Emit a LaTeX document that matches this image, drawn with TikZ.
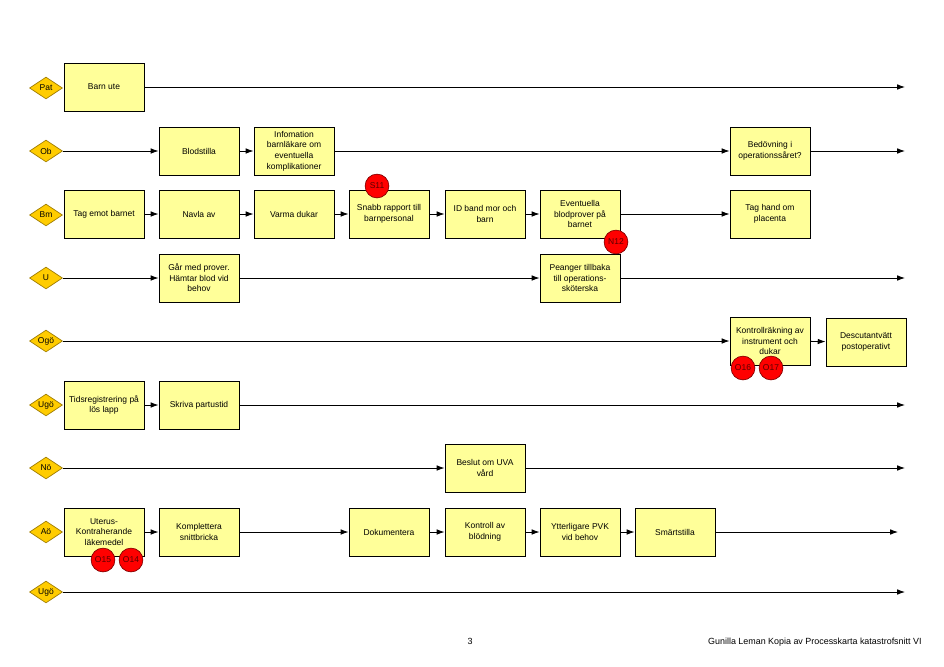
\documentclass[tikz,border=0pt]{standalone}
\usepackage{fontspec}
\setmainfont{Liberation Sans}
\usetikzlibrary{shapes.geometric,arrows.meta}

\definecolor{boxfill}{HTML}{FFFF99}
\definecolor{lanefill}{HTML}{FFCC00}
\definecolor{laneline}{HTML}{9C7A00}
\definecolor{markfill}{HTML}{FF0000}
\definecolor{markline}{HTML}{800000}
\definecolor{marktext}{HTML}{5A0000}

\begin{document}
\begin{tikzpicture}[x=0.0315cm,y=-0.0315cm,
    font=\fontsize{7.6}{9.5}\selectfont,
    >={Latex[length=7pt,width=5pt]},
    line width=0.8pt,
    lane/.style={diamond,draw=laneline,fill=lanefill,line width=0.6pt,aspect=1.5,
      inner sep=0pt,minimum width=1.04cm,minimum height=0.69cm},
    task/.style={draw,fill=boxfill,line width=0.8pt,align=center,inner sep=1pt,
      minimum width=2.52cm,minimum height=1.51cm},
    riskmark/.style={circle,draw=markline,fill=markfill,text=marktext,line width=0.6pt,
      inner sep=0pt,minimum size=0.75cm,font=\fontsize{7.6}{8}\selectfont}]
    \useasboundingbox (0,0) rectangle (944,667);

    \node[lane] (pat) at (46,88) {Pat};
    \node[lane] (ob) at (46,151) {Ob};
    \node[lane] (bm) at (46,215) {Bm};
    \node[lane] (u) at (46,278) {U};
    \node[lane] (ogo) at (46,341) {Ogö};
    \node[lane] (ugo) at (46,405) {Ugö};
    \node[lane] (no) at (46,468) {Nö};
    \node[lane] (ao) at (46,532) {Aö};
    \node[lane] (ugob) at (46,592) {Ugö};

    \coordinate (patend) at (905,87);
    \coordinate (obend) at (905,151);
    \coordinate (uend) at (905,278);
    \coordinate (ugoend) at (905,405);
    \coordinate (noend) at (905,468);
    \coordinate (aoend) at (898,532);
    \coordinate (ugobend) at (905,592);

    \node[task] (barnute) at (104,87) {Barn ute};

    \node[task] (blodstilla) at (199,151) {Blodstilla};
    \node[task] (infomation) at (294,151) {Infomation\\barnläkare om\\eventuella\\komplikationer};
    \node[task] (bedovning) at (770,151) {Bedövning i\\operationssåret?};

    \node[task] (tagemot) at (104,214) {Tag emot barnet};
    \node[task] (navla) at (199,214) {Navla av};
    \node[task] (varma) at (294,214) {Varma dukar};
    \node[task] (snabb) at (389,214) {Snabb rapport till\\barnpersonal};
    \node[task] (idband) at (485,214) {ID band mor och\\barn};
    \node[task] (blodprov) at (580,214) {Eventuella\\blodprover på\\barnet};
    \node[task] (placenta) at (770,214) {Tag hand om\\placenta};

    \node[task] (garmed) at (199,278) {Går med prover.\\Hämtar blod vid\\behov};
    \node[task] (peanger) at (580,278) {Peanger tillbaka\\till operations-\\sköterska};

    \node[task] (kontrollr) at (770,341) {Kontrollräkning av\\instrument och\\dukar};
    \node[task] (descutan) at (866,342) {Descutantvätt\\postoperativt};

    \node[task] (tidsreg) at (104,405) {Tidsregistrering på\\lös lapp};
    \node[task] (skriva) at (199,405) {Skriva partustid};

    \node[task] (beslut) at (485,468) {Beslut om UVA\\vård};

    \node[task] (uterus) at (104,532) {Uterus-\\Kontraherande\\läkemedel};
    \node[task] (komplettera) at (199,532) {Komplettera\\snittbricka};
    \node[task] (dokumentera) at (389,532) {Dokumentera};
    \node[task] (kontroll) at (485,532) {Kontroll av\\blödning};
    \node[task] (pvk) at (580,532) {Ytterligare PVK\\vid behov};
    \node[task] (smarta) at (675,532) {Smärtstilla};

    \draw[->] (barnute) -- (patend);

    \draw[->] (ob) -- (blodstilla);
    \draw[->] (blodstilla) -- (infomation);
    \draw[->] (infomation) -- (bedovning);
    \draw[->] (bedovning) -- (obend);

    \draw[->] (tagemot) -- (navla);
    \draw[->] (navla) -- (varma);
    \draw[->] (varma) -- (snabb);
    \draw[->] (snabb) -- (idband);
    \draw[->] (idband) -- (blodprov);
    \draw[->] (blodprov) -- (placenta);

    \draw[->] (u) -- (garmed);
    \draw[->] (garmed) -- (peanger);
    \draw[->] (peanger) -- (uend);

    \draw[->] (ogo) -- (kontrollr);
    \draw[->] (kontrollr) -- (descutan);

    \draw[->] (tidsreg) -- (skriva);
    \draw[->] (skriva) -- (ugoend);

    \draw[->] (no) -- (beslut);
    \draw[->] (beslut) -- (noend);

    \draw[->] (uterus) -- (komplettera);
    \draw[->] (komplettera) -- (dokumentera);
    \draw[->] (dokumentera) -- (kontroll);
    \draw[->] (kontroll) -- (pvk);
    \draw[->] (pvk) -- (smarta);
    \draw[->] (smarta) -- (aoend);

    \draw[->] (ugob) -- (ugobend);

    \node[riskmark] (s11) at (377,186) {S11};
    \node[riskmark] (n12) at (616,242) {N12};
    \node[riskmark] (o16) at (743,368) {O16};
    \node[riskmark] (o17) at (771,368) {O17};
    \node[riskmark] (o15) at (103,560) {O15};
    \node[riskmark] (o14) at (131,560) {O14};

    \node[anchor=base,font=\fontsize{8}{9.5}\selectfont] (pagenr) at (470,644) {3};
    \node[anchor=base east,inner sep=0pt,font=\fontsize{8}{9.5}\selectfont] (footer) at (922,644) {Gunilla Leman Kopia av Processkarta katastrofsnitt VI};
\end{tikzpicture}
\end{document}
